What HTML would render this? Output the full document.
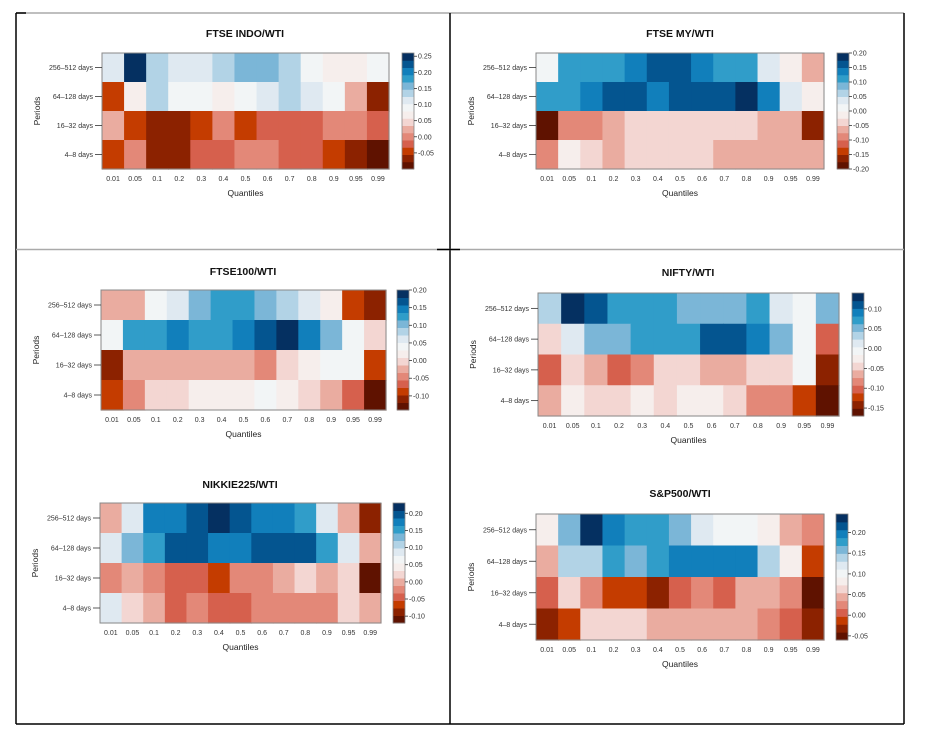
<!DOCTYPE html>
<html><head><meta charset="utf-8"><style>
html,body{margin:0;padding:0;background:#fff;width:952px;height:744px;overflow:hidden}
svg{display:block}
text{font-family:"Liberation Sans",Arial,sans-serif}
</style></head><body>
<svg id="root" width="952" height="744" viewBox="0 0 952 744">
  <g>
    <line x1="16" y1="13" x2="904" y2="13" stroke="#aaa" stroke-width="1.5"/>
    <line x1="16" y1="13" x2="26" y2="13" stroke="#000" stroke-width="1.5"/>
    <line x1="16" y1="13" x2="16" y2="724" stroke="#000" stroke-width="1.5"/>
    <line x1="904" y1="13" x2="904" y2="724" stroke="#000" stroke-width="1.5"/>
    <line x1="16" y1="724" x2="904" y2="724" stroke="#000" stroke-width="1.5"/>
    <line x1="450" y1="13" x2="450" y2="724" stroke="#000" stroke-width="1.5"/>
    <line x1="16" y1="249.5" x2="904" y2="249.5" stroke="#aaa" stroke-width="1.5"/>
    <line x1="437" y1="249.5" x2="460" y2="249.5" stroke="#000" stroke-width="1.5"/>
  </g>
</svg>
<script>
const quantiles = ["0.01","0.05","0.1","0.2","0.3","0.4","0.5","0.6","0.7","0.8","0.9","0.95","0.99"];
const periods = ["256\u2013512 days","64\u2013128 days","16\u201332 days","4\u20138 days"];
const palette = ["#5f1200","#8c2200","#c43c00","#d6604d","#e38878","#eaaca0","#f3d6d2","#f6eeec","#f2f5f6","#dfe9f1","#b2d3e6","#7bb6d7","#309dc9","#117fbb","#045590","#053061"];

const titles = ["FTSE INDO/WTI","FTSE MY/WTI","FTSE100/WTI","NIFTY/WTI","NIKKIE225/WTI","S&P500/WTI"];
const domains = [[-0.1,0.26],[-0.2,0.2],[-0.14,0.2],[-0.17,0.14],[-0.12,0.23],[-0.06,0.245]];
const legendTicks = [
  [-0.05,0,0.05,0.1,0.15,0.2,0.25],
  [-0.2,-0.15,-0.1,-0.05,0,0.05,0.1,0.15,0.2],
  [-0.1,-0.05,0,0.05,0.1,0.15,0.2],
  [-0.15,-0.1,-0.05,0,0.05,0.1],
  [-0.1,-0.05,0,0.05,0.1,0.15,0.2],
  [-0.05,0,0.05,0.1,0.15,0.2]
];
const valuesIndo = [
  [0.114,0.249,0.136,0.114,0.114,0.136,0.159,0.159,0.136,0.091,0.069,0.069,0.091],
  [-0.044,0.069,0.136,0.091,0.091,0.069,0.091,0.114,0.136,0.114,0.091,0.024,-0.066],
  [0.024,-0.044,-0.066,-0.066,-0.044,0.001,-0.044,-0.021,-0.021,-0.021,0.001,0.001,-0.021],
  [-0.044,0.001,-0.066,-0.066,-0.021,-0.021,0.001,0.001,-0.021,-0.021,-0.044,-0.066,-0.089]
];
const valuesMy = [
  [0.01,0.11,0.11,0.11,0.14,0.16,0.16,0.14,0.11,0.11,0.04,-0.01,-0.06],
  [0.11,0.11,0.14,0.16,0.16,0.14,0.16,0.16,0.16,0.19,0.14,0.04,-0.01],
  [-0.19,-0.09,-0.09,-0.06,-0.04,-0.04,-0.04,-0.04,-0.04,-0.04,-0.06,-0.06,-0.16],
  [-0.09,-0.01,-0.04,-0.06,-0.04,-0.04,-0.04,-0.04,-0.06,-0.06,-0.06,-0.06,-0.06]
];
const valuesFtse100 = [
  [-0.023,-0.023,0.041,0.062,0.104,0.126,0.126,0.104,0.083,0.062,0.019,-0.087,-0.108],
  [0.041,0.126,0.126,0.147,0.126,0.126,0.147,0.168,0.189,0.147,0.104,0.041,-0.002],
  [-0.108,-0.023,-0.023,-0.023,-0.023,-0.023,-0.023,-0.044,-0.002,0.019,0.041,0.041,-0.087],
  [-0.087,-0.044,-0.002,-0.002,0.019,0.019,0.019,0.041,0.019,-0.002,-0.023,-0.065,-0.129]
];
const valuesNifty = [
  [0.034,0.131,0.111,0.072,0.072,0.072,0.053,0.053,0.053,0.072,0.014,-0.005,0.053],
  [-0.044,0.014,0.053,0.053,0.072,0.072,0.072,0.111,0.111,0.092,0.053,-0.005,-0.102],
  [-0.102,-0.044,-0.063,-0.102,-0.083,-0.044,-0.044,-0.063,-0.063,-0.044,-0.044,-0.005,-0.141],
  [-0.063,-0.025,-0.044,-0.044,-0.025,-0.044,-0.025,-0.025,-0.044,-0.083,-0.083,-0.122,-0.160]
];
const valuesNikkei = [
  [0.001,0.088,0.176,0.176,0.198,0.220,0.198,0.176,0.176,0.154,0.088,0.001,-0.087],
  [0.088,0.132,0.154,0.198,0.198,0.176,0.176,0.198,0.198,0.198,0.154,0.088,0.001],
  [-0.021,0.001,-0.021,-0.043,-0.043,-0.065,-0.021,-0.021,0.001,0.023,0.001,0.023,-0.109],
  [0.088,0.023,0.001,-0.043,-0.021,-0.043,-0.043,-0.021,-0.021,-0.021,-0.021,0.023,0.001]
];
const valuesSp500 = [
  [0.083,0.160,0.236,0.198,0.179,0.179,0.160,0.122,0.103,0.103,0.083,0.045,0.026],
  [0.045,0.141,0.141,0.179,0.160,0.179,0.198,0.198,0.198,0.198,0.141,0.083,-0.012],
  [0.007,0.064,0.026,-0.012,-0.012,-0.031,0.007,0.026,0.007,0.045,0.045,0.026,-0.050],
  [-0.031,-0.012,0.064,0.064,0.064,0.045,0.045,0.045,0.045,0.045,0.026,0.007,-0.031]
];
const allValues = [valuesIndo,valuesMy,valuesFtse100,valuesNifty,valuesNikkei,valuesSp500];

// layout (positions only)
const layouts = [
  {x0:102,x1:389,y0:53,y1:169,lx:402,ty:37,cx:245},
  {x0:536,x1:824,y0:53,y1:169,lx:837,ty:37,cx:680},
  {x0:101,x1:386,y0:290,y1:410,lx:397,ty:275,cx:243},
  {x0:538,x1:839,y0:293,y1:416,lx:852,ty:276,cx:688},
  {x0:100,x1:381,y0:503,y1:623,lx:393,ty:488,cx:240},
  {x0:536,x1:824,y0:514,y1:640,lx:836,ty:497,cx:680}
];
const NS="http://www.w3.org/2000/svg";
const root=document.getElementById('root');
function mk(tag,attrs,parent){const e=document.createElementNS(NS,tag);for(const k in attrs)e.setAttribute(k,attrs[k]);parent.appendChild(e);return e;}
function fmt(v){return v.toFixed(2);}

allValues.forEach((vals,ci)=>{
  const L=layouts[ci], dom=domains[ci];
  const g=mk('g',{},root);
  
  
  const nC=quantiles.length,nR=periods.length;
  const cw=(L.x1-L.x0)/nC, rh=(L.y1-L.y0)/nR;
  const xScale=i=>L.x0+i*cw, yScale=j=>L.y0+j*rh;
  const colorOf=v=>{let k=Math.floor((v-dom[0])/(dom[1]-dom[0])*palette.length);k=Math.max(0,Math.min(palette.length-1,k));return palette[k];};
  const t=mk('text',{x:L.cx,y:L.ty,'text-anchor':'middle','font-size':'10.5','font-weight':'bold',fill:'#111'},g);
  t.textContent=titles[ci];
  
  
  vals.forEach((row,j)=>row.forEach((v,i)=>{
    const r=mk('rect',{x:xScale(i),y:yScale(j),width:cw+0.6,height:rh+0.6,fill:colorOf(v)},g);
    
    
  }));
  const fr=mk('rect',{x:L.x0,y:L.y0,width:L.x1-L.x0,height:L.y1-L.y0,fill:'none',stroke:'#888','stroke-width':'1'},g);
  
  
  periods.forEach((p,j)=>{
    const yc=yScale(j)+rh/2;
    mk('line',{x1:L.x0-7,x2:L.x0,y1:yc,y2:yc,stroke:'#333','stroke-width':'0.8'},g);
    const lt=mk('text',{x:L.x0-9,y:yc+2.5,'text-anchor':'end','font-size':'7',fill:'#333'},g);
    lt.textContent=p;
    
    
  });
  quantiles.forEach((q,i)=>{
    const xt=mk('text',{x:xScale(i)+cw/2,y:L.y1+12,'text-anchor':'middle','font-size':'7',fill:'#333'},g);
    xt.textContent=q;
    
    
  });
  const xa=mk('text',{x:(L.x0+L.x1)/2,y:L.y1+27,'text-anchor':'middle','font-size':'8.5',fill:'#222'},g);
  xa.textContent='Quantiles';
  
  
  const ym=(L.y0+L.y1)/2, yx=L.x0-62;
  const ya=mk('text',{x:yx,y:ym,'text-anchor':'middle','font-size':'8.5',fill:'#222',transform:'rotate(-90 '+yx+' '+ym+')'},g);
  ya.textContent='Periods';
  
  
  // legend
  const lw=12, lh=L.y1-L.y0, nb=palette.length;
  const lg=mk('g',{},g);
  
  
  palette.forEach((c,k)=>{
    mk('rect',{x:L.lx,y:L.y1-(k+1)*lh/nb,width:lw,height:lh/nb+0.5,fill:c},lg);
  });
  mk('rect',{x:L.lx,y:L.y0,width:lw,height:lh,fill:'none',stroke:'#888','stroke-width':'0.8'},lg);
  const ls=v=>L.y1-(v-dom[0])/(dom[1]-dom[0])*lh;
  legendTicks[ci].forEach(v=>{
    const yy=ls(v);
    mk('line',{x1:L.lx+lw,x2:L.lx+lw+3,y1:yy,y2:yy,stroke:'#333','stroke-width':'0.8'},lg);
    const tt=mk('text',{x:L.lx+lw+4,y:yy+2.5,'font-size':'7',fill:'#333'},lg);
    tt.textContent=fmt(v);
    
    
  });
});
</script>
</body></html>
